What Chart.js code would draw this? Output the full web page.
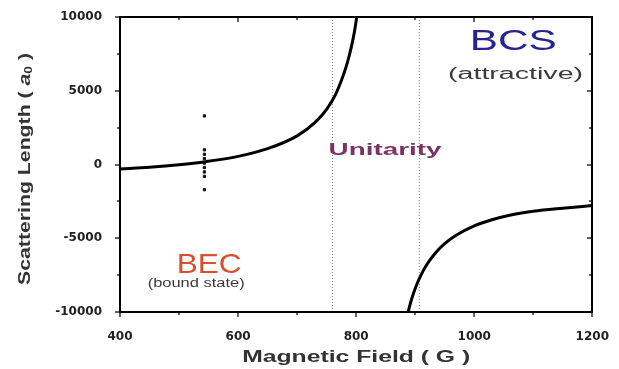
<!doctype html>
<html lang="en">
  <head>
    <meta charset="utf-8">
    <title>Scattering Length vs Magnetic Field</title>
    <style>
      html, body { margin: 0; padding: 0; background: #fff; }
      .container { width: 619px; height: 369px; }
    </style>
  </head>
  <body>
    <div class="container">
      <canvas id="myChart"></canvas>
    </div>

    <script src="https://cdn.jsdelivr.net/npm/chart.js/dist/chart.umd.min.js"></script>
    <script>
      // values
      const lowFieldB = [400, 450, 500, 545, 600, 650, 700, 730, 750, 765, 775, 785, 792, 797, 801];
      const lowFieldA = [-300, -180, -10, 200, 560, 1080, 1950, 2850, 3750, 4750, 5700, 6900, 8000, 9000, 10000];
      const highFieldB = [888, 892, 897, 903, 910, 920, 935, 950, 970, 1000, 1030, 1060, 1100, 1150, 1200];
      const highFieldA = [-10000, -9400, -8750, -8100, -7480, -6760, -5960, -5360, -4780, -4160, -3740, -3430, -3170, -2960, -2780];
      const measuredB = [543, 543, 543, 543, 543, 543, 543, 543, 543];
      const measuredA = [3300, 1000, 700, 400, 100, -200, -500, -800, -1700];
      const markerLines = [760, 907];
      const xTicks = [400, 600, 800, 1000, 1200];
      const yTicks = [-10000, -5000, 0, 5000, 10000];

      const toPoints = (xs, ys) => xs.map((x, i) => ({ x: x, y: ys[i] }));

      function stretchText(ctx, text, cx, cy, font, color, width) {
        ctx.save();
        ctx.font = font;
        const m = ctx.measureText(text).width;
        ctx.translate(cx, cy);
        ctx.scale(width / m, 1);
        ctx.textAlign = 'center';
        ctx.textBaseline = 'middle';
        ctx.fillStyle = color;
        ctx.fillText(text, 0, 0);
        ctx.restore();
      }

      const notes = [
        { text: 'BCS', x: 1066, y: 8290, font: '29px "Liberation Sans"', color: '#25258f', width: 87 },
        { text: '(attractive)', x: 1070, y: 6130, font: '16px "Liberation Sans"', color: '#3a3a3a', width: 135 },
        { text: 'Unitarity', x: 849, y: 925, font: 'bold 16px "Liberation Sans"', color: '#7a3463', width: 113 },
        { text: 'BEC', x: 551, y: -6840, font: '28px "Liberation Sans"', color: '#d4502e', width: 65 },
        { text: '(bound state)', x: 529, y: -8060, font: '12px "Liberation Sans"', color: '#3a3a3a', width: 97 }
      ];

      // frame on four sides, ticks outside on left/bottom and inside on top/right
      const framePlugin = {
        id: 'frame',
        afterDraw(chart) {
          const ctx = chart.ctx;
          const a = chart.chartArea;
          const xs = chart.scales.x;
          const ys = chart.scales.y;
          const L = Math.round(a.left), R = Math.round(a.right);
          const T = Math.round(a.top), B = Math.round(a.bottom);
          ctx.save();
          ctx.fillStyle = '#000';
          ctx.fillRect(L - 1, T - 1, R - L + 2, 2);
          ctx.fillRect(L - 1, B - 1, R - L + 2, 2);
          ctx.fillRect(L - 1, T - 1, 2, B - T + 2);
          ctx.fillRect(R - 1, T - 1, 2, B - T + 2);

          for (let v = 400; v <= 1200; v += 100) {
            const px = Math.round(xs.getPixelForValue(v));
            const len = v % 200 === 0 ? 5 : 3;
            ctx.fillRect(px - 0.6, B, 1.2, len);
            ctx.fillRect(px - 0.6, T, 1.2, len);
          }
          for (let v = -10000; v <= 10000; v += 2500) {
            const py = Math.round(ys.getPixelForValue(v));
            const len = v % 5000 === 0 ? 5 : 3;
            ctx.fillRect(L - len, py - 0.6, len, 1.2);
            ctx.fillRect(R - len, py - 0.6, len, 1.2);
          }

          notes.forEach(n => {
            stretchText(ctx, n.text, xs.getPixelForValue(n.x), ys.getPixelForValue(n.y), n.font, n.color, n.width);
          });

          // x axis title
          stretchText(ctx, 'Magnetic Field ( G )', (a.left + a.right) / 2, 358,
            'bold 16px "Liberation Sans"', '#333', 228);

          // y axis title with italic a and subscript 0
          const parts = [
            { t: 'Scattering Length ( ', f: 'bold 17px "Liberation Sans"', dy: 0 },
            { t: 'a', f: 'italic bold 17px "Liberation Sans"', dy: 0 },
            { t: '0', f: 'bold 11px "Liberation Sans"', dy: 4 },
            { t: ' )', f: 'bold 17px "Liberation Sans"', dy: 0 }
          ];
          let total = 0;
          parts.forEach(p => { ctx.font = p.f; p.w = ctx.measureText(p.t).width; total += p.w; });
          ctx.translate(25, 169);
          ctx.rotate(-Math.PI / 2);
          ctx.scale(232 / total, 1);
          ctx.fillStyle = '#333';
          ctx.textBaseline = 'middle';
          ctx.textAlign = 'left';
          let cur = -total / 2;
          parts.forEach(p => {
            ctx.font = p.f;
            ctx.fillText(p.t, cur, p.dy);
            cur += p.w;
          });
          ctx.restore();
        }
      };

      const datasets = [
        {
          label: 'low field',
          data: toPoints(lowFieldB, lowFieldA),
          borderColor: '#000',
          borderWidth: 3,
          pointRadius: 0,
          cubicInterpolationMode: 'monotone'
        },
        {
          label: 'high field',
          data: toPoints(highFieldB, highFieldA),
          borderColor: '#000',
          borderWidth: 3,
          pointRadius: 0,
          cubicInterpolationMode: 'monotone'
        },
        {
          label: 'measured',
          type: 'scatter',
          data: toPoints(measuredB, measuredA),
          backgroundColor: '#111',
          borderColor: '#111',
          pointStyle: 'rect',
          pointRadius: 1.6
        }
      ];
      markerLines.forEach(b => {
        datasets.push({
          label: 'line ' + b,
          data: [{ x: b, y: -10000 }, { x: b, y: 10000 }],
          borderColor: '#8a8a8a',
          borderWidth: 1,
          borderDash: [1, 2],
          pointRadius: 0
        });
      });

      const tickFont = { family: 'DejaVu Sans', weight: 'bold', size: 12 };

      const config = {
        type: 'line',
        data: { datasets: datasets },
        options: {
          responsive: true,
          maintainAspectRatio: false,
          animation: false,
          layout: { padding: { top: 16, right: 21, left: 0, bottom: 0 } },
          plugins: {
            legend: { display: false },
            tooltip: { enabled: false }
          },
          scales: {
            x: {
              type: 'linear',
              min: 400,
              max: 1200,
              afterBuildTicks: axis => { axis.ticks = xTicks.map(v => ({ value: v })); },
              afterFit: axis => { axis.height = 57; },
              grid: { display: false },
              border: { display: false },
              ticks: {
                padding: 10,
                maxRotation: 0,
                color: '#222',
                font: tickFont,
                callback: v => String(v)
              }
            },
            y: {
              type: 'linear',
              min: -10000,
              max: 10000,
              afterBuildTicks: axis => { axis.ticks = yTicks.map(v => ({ value: v })); },
              afterFit: axis => { axis.width = 120; },
              grid: { display: false },
              border: { display: false },
              ticks: {
                padding: 10,
                color: '#222',
                font: tickFont,
                callback: v => String(v)
              }
            }
          }
        },
        plugins: [framePlugin]
      };

      const myChart = new Chart(document.getElementById('myChart'), config);
    </script>
  </body>
</html>
